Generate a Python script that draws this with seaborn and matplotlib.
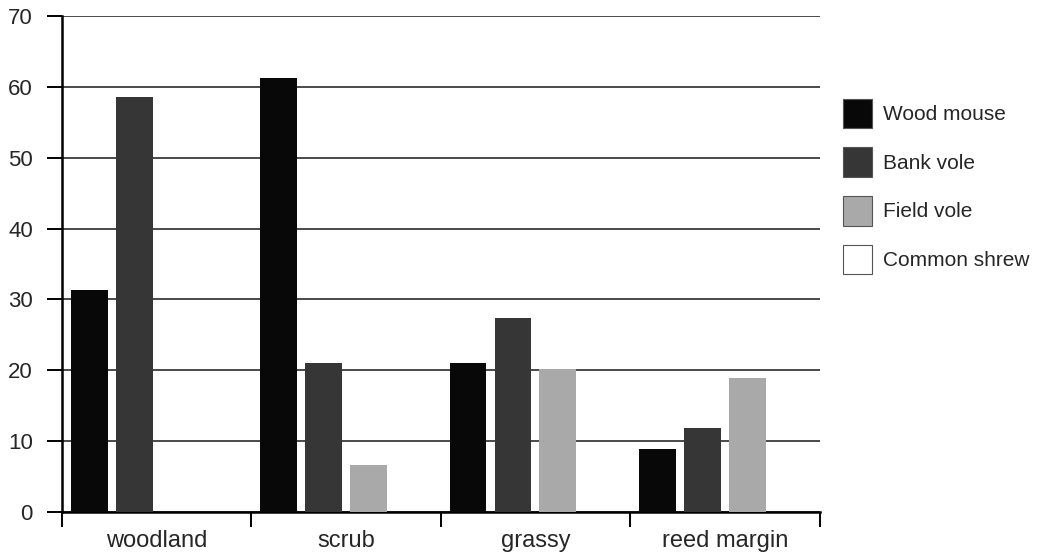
import matplotlib
matplotlib.use("Agg")
import matplotlib.pyplot as plt
from matplotlib.patches import Patch
import pandas as pd
import seaborn as sns

# data
habitats = ['woodland', 'scrub', 'grassy', 'reed margin']
species = ['Wood mouse', 'Bank vole', 'Field vole', 'Common shrew']
wood_mouse = [31.3, 61.2, 21.0, 8.9]
bank_vole = [58.6, 21.0, 27.4, 11.9]
field_vole = [0.0, 6.6, 20.2, 18.9]
common_shrew = [0.0, 0.0, 0.0, 0.0]

rows = []
for sp, vals in zip(species, [wood_mouse, bank_vole, field_vole, common_shrew]):
    for h, v in zip(habitats, vals):
        rows.append({'habitat': h, 'species': sp, 'count': v})
df = pd.DataFrame(rows)

colors = {'Wood mouse': '#080808', 'Bank vole': '#363636',
          'Field vole': '#a9a9a9', 'Common shrew': '#ffffff'}

sns.set_style('white')
plt.rcParams['font.family'] = ['Liberation Sans', 'DejaVu Sans']

fig = plt.figure(figsize=(10.4, 5.54), dpi=100)
ax = fig.add_axes([0.0596, 0.0758, 0.7284, 0.8953])

sns.barplot(data=df, x='habitat', y='count', hue='species', order=habitats,
            hue_order=species, palette=colors, width=0.95, gap=0.18,
            linewidth=0, legend=False, ax=ax, zorder=3)

ax.set_ylim(0, 70)
ax.set_xlim(-0.5, 3.5)
ax.set_yticks(range(0, 71, 10))
ax.yaxis.grid(True, color='#4a4a4a', linewidth=1.4, zorder=0)
ax.set_axisbelow(True)

# ticks at the group boundaries, labels in the middle
ax.set_xticks([-0.5, 0.5, 1.5, 2.5, 3.5])
ax.set_xticklabels([])
ax.set_xticks(range(4), minor=True)
ax.set_xticklabels(habitats, minor=True, fontsize=17)
ax.tick_params(axis='x', which='major', direction='out', length=11, width=1.4,
               bottom=True, color='black')
ax.tick_params(axis='x', which='minor', length=0, pad=13)
ax.tick_params(axis='y', direction='out', length=11, width=1.4, left=True,
               color='black', labelsize=16, pad=10)

ax.set_xlabel('')
ax.set_ylabel('')
for s in ['top', 'right']:
    ax.spines[s].set_visible(False)
for s in ['left', 'bottom']:
    ax.spines[s].set_color('black')
    ax.spines[s].set_linewidth(1.8)

handles = [Patch(facecolor=colors[sp], edgecolor='#555555', linewidth=0.8, label=sp)
           for sp in species]
ax.legend(handles=handles, loc='upper left', bbox_to_anchor=(1.02, 0.85),
          frameon=False, fontsize=15, handlelength=1.4, handleheight=1.8,
          labelspacing=0.92, handletextpad=0.5, borderaxespad=0)

fig.savefig('out.png', dpi=100)
